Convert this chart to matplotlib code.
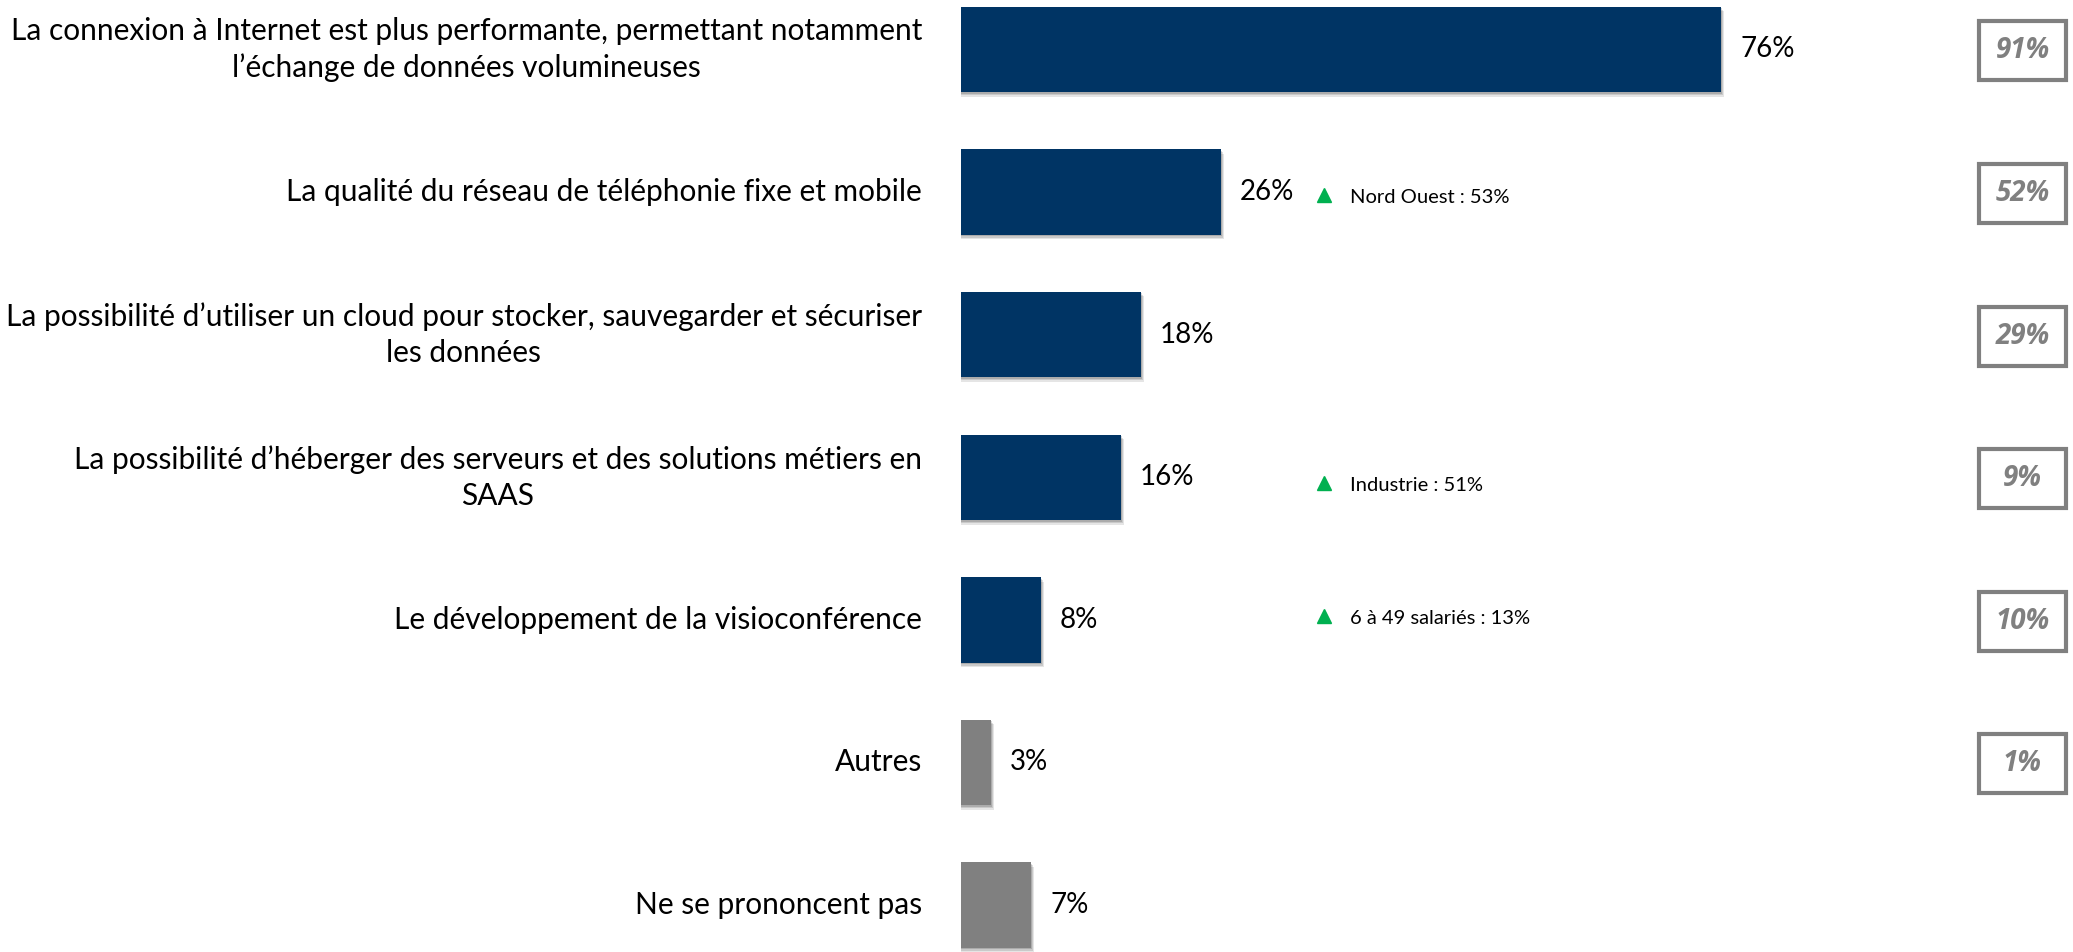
import matplotlib.pyplot as plt
from matplotlib.patches import Rectangle
import numpy as np

plt.rcParams['font.family'] = ['Lato', 'DejaVu Sans']

# data
labels = ["La connexion à Internet est plus performante, permettant notamment\nl’échange de données volumineuses",
          "La qualité du réseau de téléphonie fixe et mobile",
          "La possibilité d’utiliser un cloud pour stocker, sauvegarder et sécuriser\nles données",
          "La possibilité d’héberger des serveurs et des solutions métiers en\nSAAS",
          "Le développement de la visioconférence",
          "Autres",
          "Ne se prononcent pas"]
values = [76, 26, 18, 16, 8, 3, 7]
previous = [91, 52, 29, 9, 10, 1, None]
highlights = {1: "Nord Ouest : 53%", 3: "Industrie : 51%", 4: "6 à 49 salariés : 13%"}

navy = '#003464'
grey = '#808080'
colors = [navy] * 5 + [grey] * 2

W, H = 2073, 952
fig = plt.figure(figsize=(W / 100, H / 100), dpi=100)
# bar area: x=0 at 961px, 10px per percent
ax = fig.add_axes([961 / W, 0, 1000 / W, 1])
ax.set_xlim(0, 100)
ax.set_ylim((H - 49.5) / 142.6, -49.5 / 142.6)
ax.axis('off')

y = np.arange(len(values))
bh = 0.60

# soft drop shadow
for k, a in zip([0.9, 0.6, 0.3], [0.10, 0.12, 0.15]):
    ax.barh(y + k * 0.035, np.array(values) + k * 0.35, height=bh, left=0,
            color='black', alpha=a, linewidth=0, zorder=1)
ax.barh(y, values, height=bh, color=colors, linewidth=0, zorder=2)

for i, v in enumerate(values):
    ax.text(v + 1.9, i, f"{v}%", ha='left', va='center', fontsize=20,
            color='black', zorder=3)
    ax.text(-3.9, i, labels[i], ha='right', va='center', fontsize=21.5,
            color='black', multialignment='center', linespacing=1.36)

# regional highlights
offs = {1: 0.04, 3: 0.06, 4: -0.01}
for i, txt in highlights.items():
    ax.plot(36.3, i + offs[i] - 0.02, marker='^', color='#00b050', markersize=10,
            clip_on=False, zorder=3)
    ax.text(38.9, i + offs[i], txt, ha='left', va='center', fontsize=14.5)

# previous-wave boxes
for i, p in enumerate(previous):
    if p is None:
        continue
    ax.add_patch(Rectangle((101.8, i + 0.01 - 0.207), 8.7, 0.414, fill=False,
                           edgecolor=grey, linewidth=3, clip_on=False))
    ax.text(106.15, i + 0.01, f"{p}%", ha='center', va='center', fontsize=20,
            color=grey, fontweight='bold', fontstyle='italic', clip_on=False,
            family=['Open Sans', 'DejaVu Sans'])

fig.savefig('out.png', dpi=100)
